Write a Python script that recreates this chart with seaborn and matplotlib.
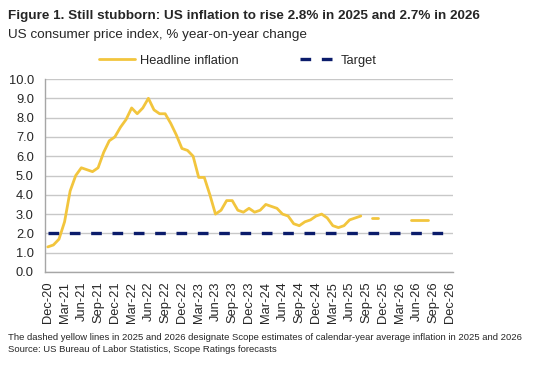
import matplotlib
matplotlib.use('Agg')
import matplotlib.pyplot as plt
from matplotlib.lines import Line2D
import numpy as np
import pandas as pd
import seaborn as sns

# months on the axis, Dec-20 .. Dec-26
miesiace = pd.date_range('2020-12-01', '2026-12-01', freq='MS')
etykiety = [m.strftime('%b-%y') for m in miesiace]

# headline CPI, % y/y, Dec-20 .. Aug-25
inflacja = [1.3, 1.4, 1.7, 2.6, 4.2, 5.0, 5.4, 5.3, 5.2, 5.4, 6.2, 6.8, 7.0,
            7.5, 7.9, 8.5, 8.2, 8.5, 9.0, 8.4, 8.2, 8.2, 7.7, 7.1, 6.4,
            6.3, 6.0, 4.9, 4.9, 4.0, 3.0, 3.2, 3.7, 3.7, 3.2, 3.1, 3.3,
            3.1, 3.2, 3.5, 3.4, 3.3, 3.0, 2.9, 2.5, 2.4, 2.6, 2.7, 2.9,
            3.0, 2.8, 2.4, 2.3, 2.4, 2.7, 2.8, 2.9]

# Scope calendar-year average forecasts
prognoza_2025 = ['Oct-25', 'Nov-25']
prognoza_2025_wart = [2.8, 2.8]
prognoza_2026 = ['May-26', 'Jun-26', 'Jul-26', 'Aug-26']
prognoza_2026_wart = [2.7, 2.7, 2.7, 2.7]

cel = 2.0

zolty = '#F2C53D'
granat = '#0B1C6B'

sns.set_style('white')
plt.rcParams['font.family'] = ['Liberation Sans', 'DejaVu Sans']

fig = plt.figure(figsize=(5.5, 3.67), dpi=100)
ax = fig.add_axes([45 / 550, 1 - 272 / 367, 408 / 550, 193 / 367])

poz = {e: i for i, e in enumerate(etykiety)}

df = pd.DataFrame({'x': np.arange(len(inflacja)), 'y': inflacja})
sns.lineplot(data=df, x='x', y='y', ax=ax, color=zolty, lw=2.0)

for miesiac, wart in ((prognoza_2025, prognoza_2025_wart), (prognoza_2026, prognoza_2026_wart)):
    sns.lineplot(x=[poz[m] for m in miesiac], y=wart, ax=ax, color=zolty, lw=2.0)

sns.lineplot(x=np.arange(len(etykiety)), y=[cel] * len(etykiety), ax=ax,
             color=granat, lw=2.4, dashes=False, linestyle=(0, (3.2, 3.2)))

ax.set_xlim(-0.5, len(etykiety) - 0.5)
ax.set_ylim(0, 10)
ax.set_yticks(np.arange(0, 11, 1))
ax.set_yticklabels([f'{v:.1f}' for v in np.arange(0, 11, 1)], fontsize=9.3)
ax.set_xticks(range(0, len(etykiety), 3))
ax.set_xticklabels(etykiety[::3], rotation=90, fontsize=9.3)
ax.tick_params(axis='y', length=0, pad=8)
ax.tick_params(axis='x', length=0, pad=7)
ax.set_xlabel('')
ax.set_ylabel('')

ax.grid(axis='y', color='#c8c8c8', lw=1.0)
ax.set_axisbelow(True)
for s in ('top', 'right'):
    ax.spines[s].set_visible(False)
for s in ('left', 'bottom'):
    ax.spines[s].set_color('#a6a6a6')
    ax.spines[s].set_linewidth(1.0)

uchwyty = [Line2D([], [], color=zolty, lw=2.0),
           Line2D([], [], color=granat, lw=2.4, linestyle=(0, (3.2, 3.2)))]
fig.legend(uchwyty, ['Headline inflation', 'Target'], loc='center',
           bbox_to_anchor=(238 / 550, 1 - 61 / 367), ncol=2, frameon=False,
           fontsize=9.3, handlelength=2.75, columnspacing=4.8, handletextpad=0.4)

fig.text(8 / 550, 1 - 16 / 367,
         'Figure 1. Still stubborn: US inflation to rise 2.8% in 2025 and 2.7% in 2026',
         fontsize=9.7, fontweight='bold', va='center')
fig.text(8 / 550, 1 - 35 / 367, 'US consumer price index, % year-on-year change',
         fontsize=9.7, va='center')
fig.text(8 / 550, 1 - 337 / 367,
         'The dashed yellow lines in 2025 and 2026 designate Scope estimates of '
         'calendar-year average inflation in 2025 and 2026',
         fontsize=6.8, va='center')
fig.text(8 / 550, 1 - 350 / 367, 'Source: US Bureau of Labor Statistics, Scope Ratings forecasts',
         fontsize=6.8, va='center')

fig.savefig('out.png', dpi=100)
